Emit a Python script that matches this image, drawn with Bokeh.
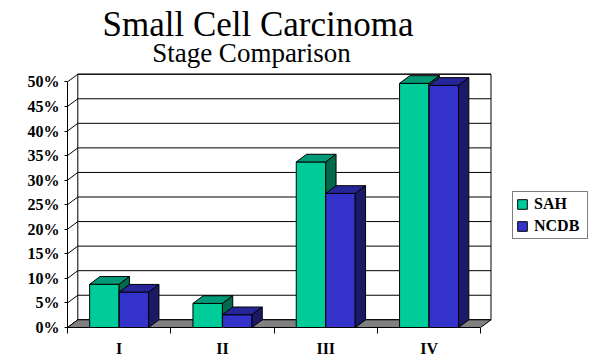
import numpy as np
from bokeh.plotting import figure
from bokeh.models import Range1d, FixedTicker, Legend, LegendItem, Label
from bokeh.embed import file_html
from bokeh.resources import INLINE

# ---------------- data ----------------
stages = ["I", "II", "III", "IV"]
series_names = ["SAH", "NCDB"]
sah = [8.8, 4.9, 33.7, 49.7]
ncdb = [7.2, 2.6, 27.3, 49.3]
pct_ticks = [0, 5, 10, 15, 20, 25, 30, 35, 40, 45, 50]
pct_labels = ["0%", "5%", "10%", "15%", "20%", "25%", "30%", "35%", "40%", "45%", "50%"]
title_text = "Small Cell Carcinoma"
subtitle_text = "Stage Comparison"

# ---------------- style ----------------
FONT = "'Liberation Serif'"
PX_PER_CAT = 103.3
PX_PER_PCT = 4.912
PLOT_W, PLOT_H = 590, 362
LEFT, BOTTOM = 67, 35
FRAME_W = PLOT_W - LEFT
FRAME_H = PLOT_H - BOTTOM
DX = 10.3 / PX_PER_CAT       # depth offset (category units)
DY = 7.7 / PX_PER_PCT        # depth offset (percent units)
BAR_W = 29.5 / PX_PER_CAT
WALL_TOP = pct_ticks[-1]
colors = {
    "SAH": ("#00CC99", "#009977", "#006A4C"),
    "NCDB": ("#3333CC", "#262699", "#1A1A66"),
}
FLOOR = "#808080"

n = len(stages)
centers = np.arange(n) + 0.5

p = figure(width=PLOT_W, height=PLOT_H,
           x_range=Range1d(0, FRAME_W / PX_PER_CAT),
           y_range=Range1d(0, FRAME_H / PX_PER_PCT),
           output_backend="svg", toolbar_location=None,
           min_border_left=LEFT, min_border_right=0,
           min_border_top=0, min_border_bottom=BOTTOM)
p.outline_line_color = None
p.xgrid.visible = False
p.ygrid.visible = False

# back wall
p.patch([DX, n + DX, n + DX, DX], [DY, DY, WALL_TOP + DY, WALL_TOP + DY],
        fill_color="white", line_color="black", line_width=1)
# grid lines on back wall
t = np.array(pct_ticks, dtype=float)
p.segment(x0=np.full(len(t), DX), y0=t + DY, x1=np.full(len(t), n + DX), y1=t + DY,
          line_color="black", line_width=1)
# diagonals on left wall
p.segment(x0=np.zeros(len(t)), y0=t, x1=np.full(len(t), DX), y1=t + DY,
          line_color="black", line_width=1)
# floor
p.patch([0, n, n + DX, DX], [0, 0, DY, DY], fill_color=FLOOR, line_color="black", line_width=1)

# bars (front, top, side faces)
legend_items = []
for k, (name, vals) in enumerate(zip(series_names, [sah, ncdb])):
    v = np.array(vals, dtype=float)
    left = centers - BAR_W + k * BAR_W
    right = left + BAR_W
    front_c, top_c, side_c = colors[name]
    front = p.quad(left=left, right=right, bottom=np.zeros(n), top=v,
                   fill_color=front_c, line_color="black", line_width=1)
    p.patches(xs=[[l, r, r + DX, l + DX] for l, r in zip(left, right)],
              ys=[[h, h, h + DY, h + DY] for h in v],
              fill_color=top_c, line_color="black", line_width=1)
    p.patches(xs=[[r, r + DX, r + DX, r] for r in right],
              ys=[[0, DY, h + DY, h] for h in v],
              fill_color=side_c, line_color="black", line_width=1)
    legend_items.append(LegendItem(label=name, renderers=[front]))

# y axis (front)
ya = p.yaxis[0]
ya.ticker = FixedTicker(ticks=pct_ticks)
ya.major_label_overrides = dict(zip(pct_ticks, pct_labels))
ya.bounds = (pct_ticks[0], pct_ticks[-1])
ya.major_tick_out = 3
ya.major_tick_in = 0
ya.minor_tick_line_color = None
ya.major_label_standoff = 5
ya.major_label_text_font = FONT
ya.major_label_text_font_style = "bold"
ya.major_label_text_font_size = "16px"
ya.major_label_text_color = "black"

# x axis
xa = p.xaxis[0]
xa.ticker = FixedTicker(ticks=list(centers), minor_ticks=list(range(n + 1)))
xa.major_label_overrides = dict(zip(list(centers), stages))
xa.bounds = (0, n)
xa.major_tick_out = 0
xa.major_tick_in = 0
xa.major_tick_line_color = None
xa.minor_tick_out = 6
xa.minor_tick_in = 0
xa.minor_tick_line_color = "black"
xa.major_label_standoff = 6
xa.major_label_text_font = FONT
xa.major_label_text_font_style = "bold"
xa.major_label_text_font_size = "16px"
xa.major_label_text_color = "black"

legend = Legend(items=legend_items, location=(445, 88),
                border_line_color="black", border_line_width=1,
                background_fill_color="white", background_fill_alpha=1,
                label_text_font=FONT, label_text_font_style="bold",
                label_text_font_size="16px", label_text_color="black",
                glyph_width=12, glyph_height=12, label_height=17, label_width=50,
                spacing=4, padding=3, margin=0, label_standoff=6)
p.add_layout(legend)

# titles (placed in the empty top part of the frame)
p.add_layout(Label(x=(257.5 - LEFT) / PX_PER_CAT, y=(FRAME_H - 4.3) / PX_PER_PCT,
                   text=title_text, text_font=FONT, text_font_size="35px",
                   text_align="center", text_baseline="top", text_color="black"))
p.add_layout(Label(x=(251 - LEFT) / PX_PER_CAT, y=(FRAME_H - 37.1) / PX_PER_PCT,
                   text=subtitle_text, text_font=FONT, text_font_size="27px",
                   text_align="center", text_baseline="top", text_color="black"))

open("out.html", "w").write(file_html(p, INLINE))
